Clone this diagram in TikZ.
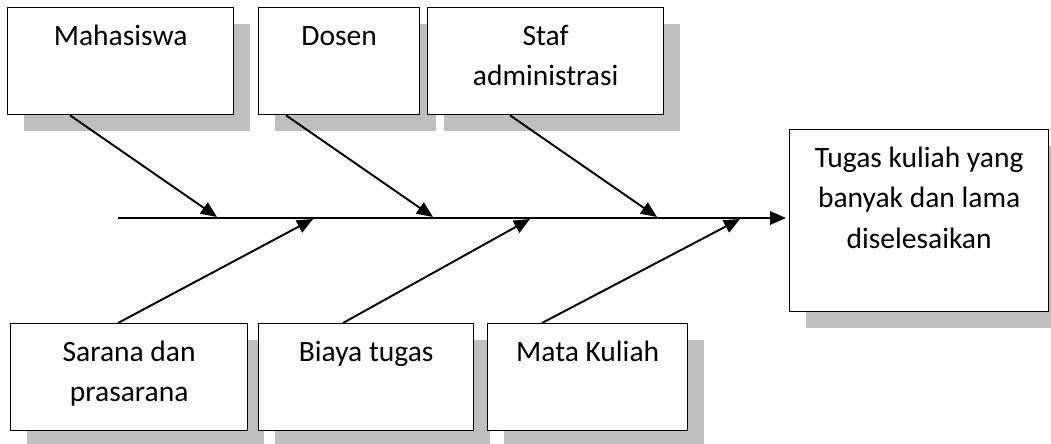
\documentclass[tikz,border=0pt]{standalone}
\usepackage{fontspec}
\setmainfont{Carlito}
\usetikzlibrary{arrows.meta,shadows}

\newlength\pxu
\setlength\pxu{0.02cm}
\newcommand{\boxtext}[3]{\parbox[c][#2\pxu][t]{#1\pxu}{\centering\vspace*{5.4pt}\strut #3}}

\begin{document}
\begin{tikzpicture}[x=0.02cm,y=-0.02cm,font=\fontsize{16.8}{23}\selectfont,
    cause/.style={draw=ink, line width=0.75pt, fill=white, inner sep=0pt,
      anchor=north west,
      general shadow={fill=shade, shadow xshift=0.32cm, shadow yshift=-0.32cm}},
    bone/.style={draw=ink, line width=1.1pt,
      -{Triangle[length=0.32cm, width=0.27cm]}}]
  \definecolor{ink}{RGB}{0,0,0}
  \definecolor{shade}{RGB}{191,191,191}

  \useasboundingbox (0,0) rectangle (1051,443);

  % kotak penyebab dan akibat
  \foreach \name/\px/\py/\w/\h/\txt in {
    mhs/7/7/226/107/{Mahasiswa},
    dsn/258/7/161/107/{Dosen},
    stf/427/7/236/107/{Staf\\administrasi},
    sar/10/323/237/107/{Sarana dan\\prasarana},
    bia/258/323/215/107/{Biaya tugas},
    mk/487/323/200/107/{Mata Kuliah},
    akb/789/129/259/182/{Tugas kuliah yang\\banyak dan lama\\diselesaikan}
  } {
    \node[cause] (\name) at (\px,\py) {\boxtext{\w}{\h}{\txt}};
  }

  % tulang utama
  \coordinate (tail) at (118,218);
  \draw[bone, shorten >=0.06cm] (tail) -- (tail -| akb.west);

  % titik temu di tulang utama
  \foreach \n/\x/\y in {p1/217/217, p2/433/217, p3/657/217,
                        q1/313/219, q2/530/219, q3/740/219} {
    \coordinate (\n) at (\x,\y);
  }

  \foreach \src/\dx/\dst in {mhs/63/p1, dsn/28/p2, stf/83/p3} {
    \draw[bone] (\src.south west) ++(\dx,0) -- (\dst);
  }
  \foreach \src/\dx/\dst in {sar/108/q1, bia/85/q2, mk/55/q3} {
    \draw[bone] (\src.north west) ++(\dx,0) -- (\dst);
  }
\end{tikzpicture}
\end{document}
